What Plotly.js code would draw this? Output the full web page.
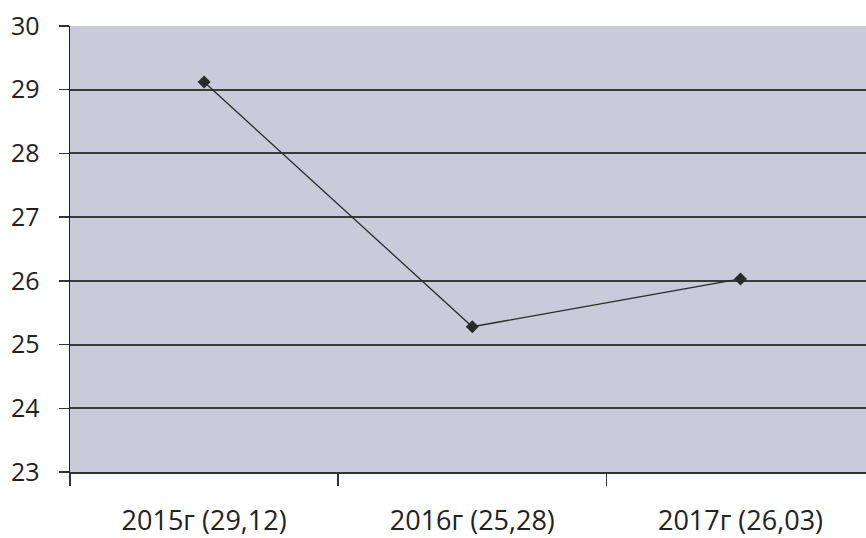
<!DOCTYPE html>
<html>
<head>
<meta charset="utf-8">
<script src="https://cdn.plot.ly/plotly-3.0.1.min.js"></script>
<style>html,body{margin:0;padding:0;background:#fff;}#chart{width:866px;height:538px;}</style>
</head>
<body>
<div id="chart"></div>
<script>
const categories = ["2015г (29,12)", "2016г (25,28)", "2017г (26,03)"];
const values = [29.12, 25.28, 26.03];
const yTicks = [23, 24, 25, 26, 27, 28, 29, 30];

const trace = {
  x: categories,
  y: values,
  type: 'scatter',
  mode: 'lines+markers',
  line: {color: '#2a2a2a', width: 1.3},
  marker: {symbol: 'diamond', size: 10, color: '#2a2a2a'},
  hoverinfo: 'skip'
};

const layout = {
  width: 866,
  height: 538,
  margin: {l: 70, r: 0, t: 26, b: 66, pad: 0},
  paper_bgcolor: '#ffffff',
  plot_bgcolor: '#cbcada',
  showlegend: false,
  font: {family: '"Open Sans", sans-serif', color: '#222', size: 23},
  xaxis: {
    type: 'category',
    range: [-0.5, 2.468],
    tickson: 'boundaries',
    ticks: 'outside',
    ticklen: 12,
    tickwidth: 1.5,
    tickcolor: '#333',
    showgrid: false,
    showline: true,
    linecolor: '#333',
    linewidth: 2,
    ticklabelstandoff: 24,
    tickfont: {size: 27, color: '#222'},
    fixedrange: true
  },
  yaxis: {
    range: [23, 30],
    tickvals: yTicks,
    ticktext: yTicks.map(String),
    ticks: 'outside',
    ticklen: 10,
    tickwidth: 1.5,
    tickcolor: '#333',
    showgrid: true,
    gridcolor: '#3a3a3a',
    gridwidth: 2,
    showline: true,
    linecolor: '#222',
    linewidth: 1.5,
    zeroline: false,
    ticklabelstandoff: 14,
    tickfont: {size: 25, color: '#222'},
    fixedrange: true
  }
};

Plotly.newPlot('chart', [trace], layout, {displayModeBar: false, staticPlot: true});
</script>
</body>
</html>
